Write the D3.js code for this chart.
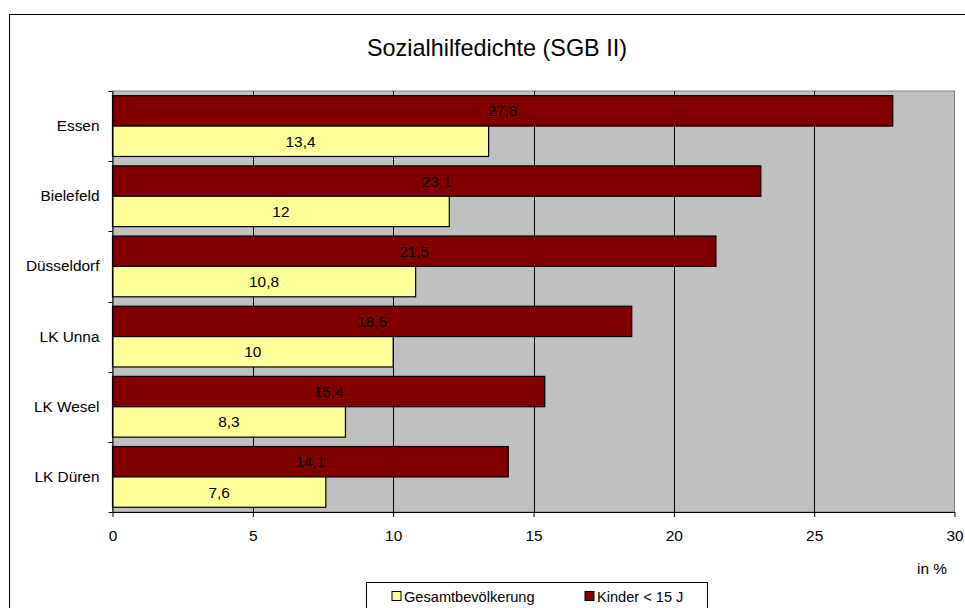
<html lang="de">
  <head>
    <meta charset="UTF-8" />
    <title>Sozialhilfedichte (SGB II)</title>
    <style>
      body { margin: 0; background: #fff; }
      svg { display: block; font-family: "Liberation Sans", Arial, sans-serif; }
    </style>
    <script src="https://cdn.jsdelivr.net/npm/d3@7"></script>
  </head>
  <body>
    <script>
      const cities = ["Essen", "Bielefeld", "Düsseldorf", "LK Unna", "LK Wesel", "LK Düren"];
      const kinder = [27.8, 23.1, 21.5, 18.5, 15.4, 14.1];
      const gesamt = [13.4, 12, 10.8, 10, 8.3, 7.6];
      const seriesNames = ["Kinder < 15 J", "Gesamtbevölkerung"];
      const legendOrder = ["Gesamtbevölkerung", "Kinder < 15 J"];
      const xTicks = [0, 5, 10, 15, 20, 25, 30];

      const width = 965;
      const height = 608;
      const plot = { left: 112.5, right: 954.5, top: 91, bottom: 512 };
      const fs = "15.4px";

      const color = d3.scaleOrdinal()
        .domain(seriesNames)
        .range(["#800000", "#FFFF99"]);

      const rows = cities.map((c, i) => ({
        city: c,
        values: [
          { key: seriesNames[0], value: kinder[i] },
          { key: seriesNames[1], value: gesamt[i] }
        ]
      }));

      const svg = d3.select("body").append("svg")
        .attr("width", width)
        .attr("height", height);

      // outer chart frame (runs off right and bottom edge)
      svg.append("rect")
        .attr("x", 9.5).attr("y", 14.5)
        .attr("width", 970).attr("height", 610)
        .attr("fill", "#fff")
        .attr("stroke", "#000");

      svg.append("text")
        .attr("x", 497).attr("y", 56)
        .attr("text-anchor", "middle")
        .style("font-size", "23.4px")
        .text("Sozialhilfedichte (SGB II)");

      const x = d3.scaleLinear().domain([0, 30]).range([plot.left, plot.right]);
      const y = d3.scaleBand()
        .domain(cities)
        .range([plot.top, plot.bottom])
        .paddingInner(0.134)
        .paddingOuter(0.067);
      const ySub = d3.scaleBand().domain(seriesNames).range([0, y.bandwidth()]);

      // plot background
      svg.append("rect")
        .attr("x", plot.left).attr("y", plot.top)
        .attr("width", plot.right - plot.left)
        .attr("height", plot.bottom - plot.top)
        .attr("fill", "#C0C0C0")
        .attr("stroke", "#808080");

      // vertical gridlines
      svg.append("g")
        .selectAll("line")
        .data(xTicks.slice(1, -1))
        .join("line")
        .attr("x1", d => Math.round(x(d)) + 0.5)
        .attr("x2", d => Math.round(x(d)) + 0.5)
        .attr("y1", plot.top)
        .attr("y2", plot.bottom)
        .attr("stroke", "#000");

      const groups = svg.append("g")
        .selectAll("g")
        .data(rows)
        .join("g")
        .attr("transform", d => "translate(0," + y(d.city) + ")");

      groups.selectAll("rect")
        .data(d => d.values)
        .join("rect")
        .attr("x", x(0))
        .attr("y", d => ySub(d.key))
        .attr("width", d => x(d.value) - x(0))
        .attr("height", ySub.bandwidth())
        .attr("fill", d => color(d.key))
        .attr("stroke", "#000")
        .attr("stroke-width", 1.2);

      groups.selectAll("text")
        .data(d => d.values)
        .join("text")
        .attr("x", d => (x(0) + x(d.value)) / 2)
        .attr("y", d => ySub(d.key) + ySub.bandwidth() / 2)
        .attr("dy", "0.36em")
        .attr("text-anchor", "middle")
        .style("font-size", fs)
        .attr("fill", "#000")
        .text(d => String(d.value).replace(".", ","));

      // x axis
      const xAxis = d3.axisBottom(x)
        .tickValues(xTicks)
        .tickSize(5)
        .tickSizeOuter(0)
        .tickFormat(d3.format("d"));
      const gx = svg.append("g")
        .attr("transform", "translate(0," + plot.bottom + ")")
        .call(xAxis);
      gx.select(".domain").attr("stroke", "#000");
      gx.selectAll("text")
        .attr("dy", "0.71em")
        .attr("y", 18.5)
        .style("font-size", fs)
        .style("font-family", "Liberation Sans, Arial, sans-serif")
        .attr("fill", "#000");

      // y axis (category labels + boundary ticks)
      const yAxis = d3.axisLeft(y).tickSize(0).tickPadding(13);
      const gy = svg.append("g")
        .attr("transform", "translate(" + plot.left + ",0)")
        .call(yAxis);
      gy.select(".domain").attr("stroke", "#000");
      gy.selectAll("text")
        .style("font-size", fs)
        .style("font-family", "Liberation Sans, Arial, sans-serif")
        .attr("fill", "#000");

      const bounds = cities.map(c => y(c) - y.step() * y.paddingInner() / 2)
        .concat([plot.bottom]);
      svg.append("g")
        .selectAll("line")
        .data(bounds)
        .join("line")
        .attr("x1", plot.left - 4)
        .attr("x2", plot.left)
        .attr("y1", d => Math.round(d) + 0.5)
        .attr("y2", d => Math.round(d) + 0.5)
        .attr("stroke", "#000");

      svg.append("text")
        .attr("x", 932).attr("y", 573.5)
        .attr("text-anchor", "middle")
        .style("font-size", fs)
        .text("in %");

      // legend
      const legend = svg.append("g");
      legend.append("rect")
        .attr("x", 366.5).attr("y", 582.5)
        .attr("width", 341).attr("height", 40)
        .attr("fill", "#fff")
        .attr("stroke", "#000");
      const legendX = [392, 585];
      const items = legend.selectAll("g")
        .data(legendOrder)
        .join("g")
        .attr("transform", (d, i) => "translate(" + legendX[i] + ",591.5)");
      items.append("rect")
        .attr("width", 9).attr("height", 9)
        .attr("fill", d => color(d))
        .attr("stroke", "#000");
      items.append("text")
        .attr("x", 12).attr("y", 10)
        .style("font-size", "14.6px")
        .text(d => d);
    </script>
  </body>
</html>
